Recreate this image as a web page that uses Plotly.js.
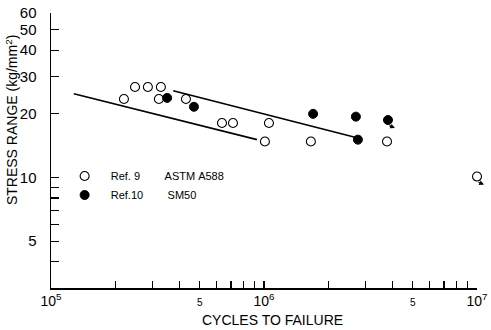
<!DOCTYPE html>
<html><head><meta charset="utf-8">
<script src="https://cdn.plot.ly/plotly-3.0.1.min.js"></script>
<style>html,body{margin:0;padding:0;background:#fff}#c{width:491px;height:330px}</style>
</head><body><div id="c"></div>
<script>
// Ref. 9 ASTM A588 (open circles)
const ref9Cycles = [2.20e5, 2.48e5, 2.85e5, 3.28e5, 3.21e5, 4.30e5, 6.35e5, 7.15e5, 1.055e6, 1.01e6, 1.66e6, 3.78e6, 1.0e7];
const ref9Stress = [23.5, 26.8, 26.8, 26.8, 23.5, 23.5, 18.1, 18.1, 18.1, 14.8, 14.8, 14.8, 10.1];
// Ref. 10 SM50 (filled circles)
const ref10Cycles = [3.51e5, 4.69e5, 1.70e6, 2.70e6, 3.82e6, 2.76e6];
const ref10Stress = [23.8, 21.6, 20.0, 19.4, 18.7, 15.1];
// run-outs (no failure)
const runoutCycles = [1.0e7, 3.82e6];
const runoutStress = [10.1, 18.7];
// regression lines
const lineACycles = [1.28e5, 9.27e5];
const lineAStress = [24.9, 15.1];
const lineBCycles = [3.75e5, 2.73e6];
const lineBStress = [25.7, 15.4];
// ticks
const xTickVals = [1e5,2e5,3e5,4e5,5e5,6e5,7e5,8e5,9e5,1e6,2e6,3e6,4e6,5e6,6e6,7e6,8e6,9e6,1e7];
const xTickText = ['10<sup>5</sup>','','','','<span style="font-size:10px">5</span>','','','','','10<sup>6</sup>','','','','<span style="font-size:10px">5</span>','','','','','10<sup>7</sup>'];
const yTickVals = [3,4,5,6,7,8,9,10,20,30,40,50,60];
const yTickText = ['','','5','','','','','10','20','30','40','50','60'];

const nb = '\u00a0';
const traces = [
  {x: lineACycles, y: lineAStress, mode:'lines', line:{color:'#000', width:1.6}, showlegend:false},
  {x: lineBCycles, y: lineBStress, mode:'lines', line:{color:'#000', width:1.6}, showlegend:false},
  {x: ref9Cycles, y: ref9Stress, mode:'markers', cliponaxis:false, name:nb+nb+'Ref.'+nb+'9'+nb.repeat(8)+'ASTM'+nb+'A588',
   marker:{symbol:'circle-open', size:9, color:'#000', line:{width:1.1, color:'#000'}}},
  {x: ref10Cycles, y: ref10Stress, mode:'markers', cliponaxis:false, name:nb+nb+'Ref.10'+nb.repeat(8)+'SM50',
   marker:{symbol:'circle', size:9, color:'#000', line:{width:1, color:'#000'}}}
];

const annotations = [
  {xref:'paper', yref:'paper', x:-0.092, xanchor:'center', y:0.61, yanchor:'middle', text:'STRESS RANGE (kg/mm<sup>2</sup>)', textangle:-90,
   showarrow:false, font:{size:14, color:'#000'}},
  {xref:'paper', yref:'paper', x:0.52, y:-0.116, yanchor:'middle', text:'CYCLES TO FAILURE',
   showarrow:false, font:{size:14, color:'#000'}}
];
runoutCycles.forEach((c,i)=>{
  annotations.push({x:Math.log10(c), y:Math.log10(runoutStress[i]), xref:'x', yref:'y', text:'', showarrow:true,
    arrowhead:2, arrowsize:0.8, arrowwidth:1.2, arrowcolor:'#000', ax:-7, ay:-3, xshift:7, yshift:-8});
});

const layout = {
  width:491, height:330,
  margin:{l:51, r:14, t:13, b:42},
  paper_bgcolor:'#fff', plot_bgcolor:'#fff',
  font:{family:'Liberation Sans, Arial, sans-serif', color:'#000', size:14},
  showlegend:true,
  legend:{x:0.032, y:0.46, xanchor:'left', yanchor:'top', bgcolor:'rgba(0,0,0,0)', font:{size:11}, tracegroupgap:0},
  xaxis:{type:'log', range:[5,7], showgrid:false, zeroline:false, showline:true, linecolor:'#000', linewidth:1.5,
    ticks:'inside', ticklen:7, tickwidth:1.2, tickcolor:'#000', tickmode:'array', tickvals:xTickVals, ticktext:xTickText,
    tickfont:{size:14}},
  yaxis:{type:'log', range:[Math.log10(3), Math.log10(60)], showgrid:false, zeroline:false, showline:true, linecolor:'#000', linewidth:1.5,
    ticks:'inside', ticklen:8, tickwidth:1.2, tickcolor:'#000', tickmode:'array', tickvals:yTickVals, ticktext:yTickText,
    tickfont:{size:15}, ticklabelstandoff:10},
  annotations: annotations
};
Plotly.newPlot('c', traces, layout, {displayModeBar:false, staticPlot:true});
</script></body></html>
